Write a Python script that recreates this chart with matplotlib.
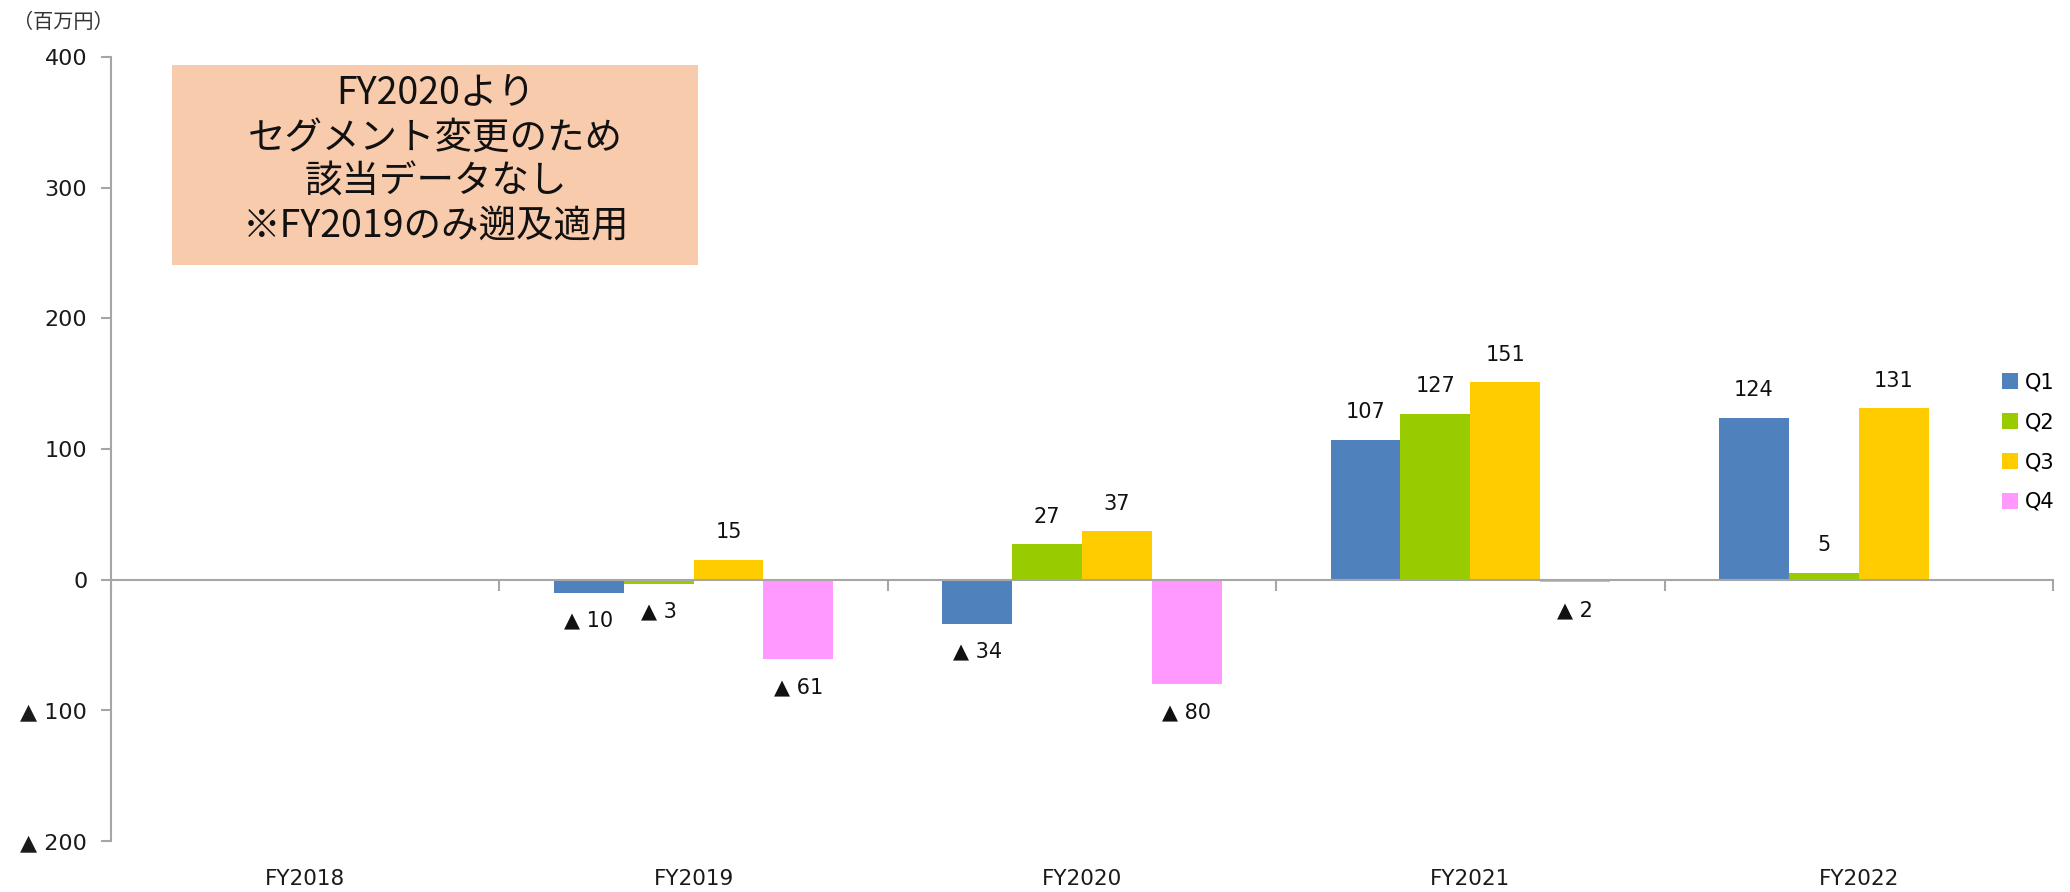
import numpy as np
import matplotlib.pyplot as plt
from matplotlib.ticker import FixedLocator

plt.rcParams['font.family'] = ['DejaVu Sans', 'Noto Sans CJK JP']

years = ['FY2018', 'FY2019', 'FY2020', 'FY2021', 'FY2022']
quarters = ['Q1', 'Q2', 'Q3', 'Q4']
q1 = [np.nan, -10, -34, 107, 124]
q2 = [np.nan, -3, 27, 127, 5]
q3 = [np.nan, 15, 37, 151, 131]
q4 = [np.nan, -61, -80, -2, np.nan]
colors = ['#4F81BD', '#99CC00', '#FFCC00', '#FF99FF']
ytick_vals = [-200, -100, 0, 100, 200, 300, 400]
ytick_labels = ['▲ 200', '▲ 100', '0', '100', '200', '300', '400']
note = 'FY2020より\nセグメント変更のため\n該当データなし\n※FY2019のみ遡及適用'

fig = plt.figure(figsize=(20.7, 8.92), dpi=100)
ax = fig.add_axes([0.0536, 0.0572, 0.9382, 0.8789])

x = np.arange(len(years))
w = 0.18
series = [q1, q2, q3, q4]
for i, (vals, c, name) in enumerate(zip(series, colors, quarters)):
    pos = x + (i - 1.5) * w
    ax.bar(pos, vals, width=w, color=c, label=name, zorder=2)
    for px, v in zip(pos, vals):
        if np.isnan(v):
            continue
        if v >= 0:
            txt, off = f'{v:g}', 20
        else:
            txt, off = f'▲ {abs(v):g}', -20
        ax.annotate(txt, (px, v), xytext=(0, off), textcoords='offset points',
                    ha='center', va='center', fontsize=15, color='#111111')

ax.set_xlim(-0.5, len(years) - 0.5)
ax.set_ylim(-200, 400)

# axes styling
for s in ['top', 'right']:
    ax.spines[s].set_visible(False)
ax.spines['left'].set_color('#A6A6A6')
ax.spines['left'].set_linewidth(1.5)
ax.spines['bottom'].set_position(('data', 0))
ax.spines['bottom'].set_color('#A6A6A6')
ax.spines['bottom'].set_linewidth(1.5)
ax.spines['bottom'].set_zorder(3)

ax.xaxis.set_major_locator(FixedLocator(np.arange(len(years) + 1) - 0.5))
ax.tick_params(axis='x', length=8, width=1.5, color='#A6A6A6', labelbottom=False)

ax.set_yticks(ytick_vals)
ax.set_yticklabels(ytick_labels)
ax.tick_params(axis='y', length=7, width=1.5, color='#A6A6A6', pad=10,
               labelsize=16, labelcolor='#1a1a1a')

sec = ax.secondary_xaxis('bottom')
sec.set_xticks(x)
sec.set_xticklabels(years)
sec.tick_params(length=0, pad=20, labelsize=15.5, labelcolor='#1a1a1a')
sec.spines['bottom'].set_visible(False)

fig.text(0.0063, 0.975, '（百万円）', fontsize=14.5, color='#333333', va='center',
         family=['Noto Sans CJK JP', 'DejaVu Sans'])

# note box
box = plt.Rectangle((0.0831, 0.7029), 0.2541, 0.2242, transform=fig.transFigure,
                    facecolor='#F8CBAD', edgecolor='none', zorder=4)
fig.patches.append(box)
fig.text(0.2104, 0.8206, note, ha='center', va='center',
         fontsize=27, linespacing=1.18, family=['Noto Sans CJK JP', 'DejaVu Sans'],
         color='#111111', zorder=5)

ax.legend(loc='upper left', bbox_to_anchor=(0.962, 0.594),
          bbox_transform=fig.transFigure, frameon=False, fontsize=15,
          handlelength=0.8, handleheight=0.8, handletextpad=0.3,
          labelspacing=0.95, borderpad=0)

fig.savefig('out.png', dpi=100)
